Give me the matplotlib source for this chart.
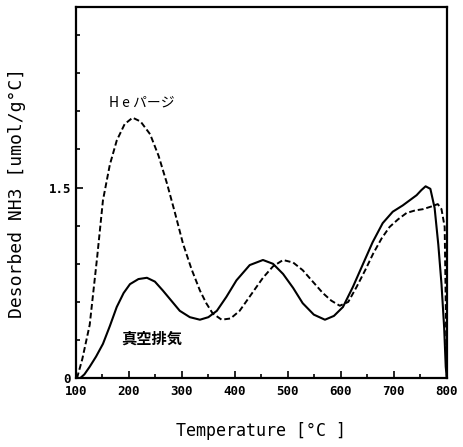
import matplotlib
matplotlib.use("Agg")
import matplotlib.pyplot as plt
from matplotlib.ticker import MultipleLocator, FixedLocator

plt.rcParams['font.family'] = ['DejaVu Sans Mono', 'Noto Sans CJK JP']

# He purge (dashed)
he_temp = [102, 112, 126, 140, 151, 164, 177, 192, 207, 222, 240, 256, 272, 287,
           302, 318, 334, 346, 358, 375, 392, 409, 431, 453, 472, 491, 510, 528,
           547, 566, 582, 598, 614, 630, 646, 661, 677, 692, 708, 724, 740, 755,
           770, 783, 790, 796, 800]
he_val = [0.0, 0.15, 0.42, 0.95, 1.40, 1.68, 1.87, 2.00, 2.05, 2.02, 1.92, 1.75,
          1.53, 1.30, 1.06, 0.86, 0.69, 0.59, 0.51, 0.46, 0.47, 0.53, 0.66, 0.79,
          0.88, 0.93, 0.91, 0.85, 0.76, 0.67, 0.61, 0.57, 0.60, 0.72, 0.85, 0.98,
          1.10, 1.19, 1.25, 1.30, 1.32, 1.33, 1.35, 1.37, 1.33, 1.19, 0.0]

# vacuum exhaust (solid)
vac_temp = [108, 116, 126, 138, 151, 164, 177, 190, 202, 218, 234, 249, 264, 280,
            296, 315, 334, 350, 366, 384, 403, 428, 453, 472, 491, 510, 528, 549,
            570, 587, 604, 623, 642, 660, 679, 698, 717, 730, 743, 752, 760, 769,
            777, 784, 790, 795, 798, 800]
vac_val = [0.0, 0.03, 0.09, 0.17, 0.27, 0.41, 0.56, 0.67, 0.74, 0.78, 0.79, 0.76,
           0.69, 0.61, 0.53, 0.48, 0.46, 0.48, 0.53, 0.64, 0.77, 0.89, 0.93, 0.90,
           0.82, 0.71, 0.59, 0.50, 0.46, 0.49, 0.56, 0.72, 0.90, 1.07, 1.22, 1.31,
           1.36, 1.40, 1.44, 1.48, 1.51, 1.49, 1.34, 1.05, 0.74, 0.40, 0.09, 0.0]

x_ticks = [100, 200, 300, 400, 500, 600, 700, 800]
y_labels = {0: "0", 1.5: "1.5"}

fig = plt.figure(figsize=(4.63, 4.47), dpi=100)
ax = fig.add_axes([0.164, 0.154, 0.801, 0.830])

ax.plot(he_temp, he_val, color='black', linewidth=1.4, linestyle=(0, (3, 1.5)))
ax.plot(vac_temp, vac_val, color='black', linewidth=1.5)

ax.set_xlim(100, 800)
ax.set_ylim(0, 2.92)

ax.xaxis.set_major_locator(FixedLocator(x_ticks))
ax.xaxis.set_minor_locator(MultipleLocator(50))
ax.set_xticklabels([str(t) for t in x_ticks], fontsize=9, fontweight='bold')

ax.yaxis.set_major_locator(FixedLocator(list(y_labels.keys())))
ax.yaxis.set_minor_locator(MultipleLocator(0.3))
ax.set_yticklabels(list(y_labels.values()), fontsize=9, fontweight='bold')

ax.tick_params(which='both', direction='in', width=1.2)
ax.tick_params(which='major', length=5)
ax.tick_params(which='minor', length=3)
ax.tick_params(axis='x', pad=5)
for s in ax.spines.values():
    s.set_linewidth(1.6)

ax.set_xlabel("Temperature [°C ]", fontsize=12, labelpad=17)
ax.set_ylabel("Desorbed NH3 [umol/g°C]", fontsize=13, labelpad=16)

ax.text(225, 2.17, "H e パージ", fontsize=10, ha='center', va='center',
        family=['Noto Sans CJK JP', 'DejaVu Sans'])
ax.text(243, 0.31, "真空排気", fontsize=11, ha='center', va='center', fontweight='bold',
        family=['Noto Sans CJK JP', 'DejaVu Sans'])

fig.savefig("out.png", dpi=100)
